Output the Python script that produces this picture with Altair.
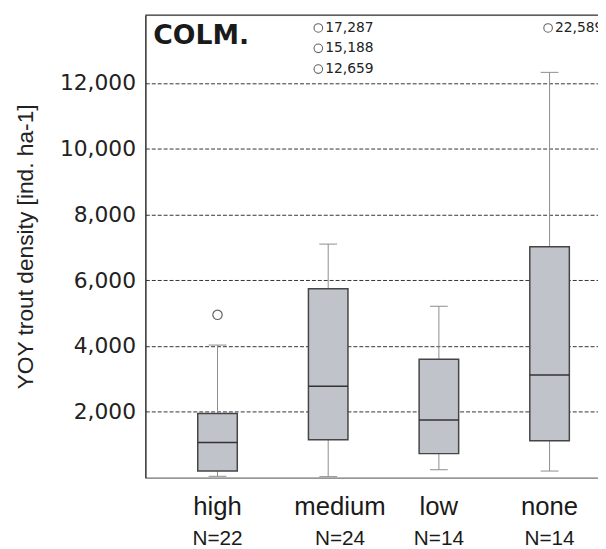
import altair as alt
import pandas as pd

# ---- data ----
categories = ["high", "medium", "low", "none"]
n_obs = [22, 24, 14, 14]
q1 = [200, 1150, 730, 1120]
median = [1070, 2780, 1750, 3120]
q3 = [1950, 5740, 3600, 7020]
whisker_low = [40, 30, 240, 200]
whisker_high = [4030, 7100, 5210, 12320]

# outlier drawn at its true value
outlier_cat = ["high"]
outlier_val = [4950]

# off-scale outliers: value printed, and the level at which the label is placed
far_cat = ["medium", "medium", "medium", "none"]
far_val = [17287, 15188, 12659, 22589]
far_shown_at = [13670, 13050, 12420, 13670]

y_ticks = [2000, 4000, 6000, 8000, 10000, 12000]
panel_label = "COLM."
y_title = "YOY trout density [ind. ha-1]"

# ---- layout ----
W, H = 458, 468
STEP = 112.0           # px per category
X0 = 1 - 73 / STEP     # domain start so the first category sits 73px in
xdom = [X0, X0 + W / STEP]
ydom = [0, 14060]

idx = list(range(1, len(categories) + 1))
boxes = pd.DataFrame({
    "cat": categories, "xi": idx, "n": n_obs, "q1": q1, "med": median,
    "q3": q3, "lo": whisker_low, "hi": whisker_high,
})
boxes["nlab"] = ["N=" + str(v) for v in n_obs]
outl = pd.DataFrame({"cat": outlier_cat, "val": outlier_val})
outl["xi"] = [idx[categories.index(c)] for c in outlier_cat]
far = pd.DataFrame({"cat": far_cat, "val": far_val, "shown": far_shown_at})
far["xi"] = [idx[categories.index(c)] for c in far_cat]
far["lab"] = [f"{v:,}" for v in far_val]

xs = alt.Scale(domain=xdom, nice=False, zero=False)
ys = alt.Scale(domain=ydom, nice=False, zero=False)

X_AXIS = alt.Axis(labels=False, ticks=False, grid=False, title=None,
                  domainColor="#7a7a7a", domainWidth=1.5)
Y_AXIS = alt.Axis(values=y_ticks, format=",d", ticks=False, labelPadding=10,
                  labelFont="DejaVu Sans", labelFontSize=22, labelColor="#222",
                  title=y_title, titleFont="Liberation Sans", titleFontSize=23,
                  titleFontWeight="normal", titleColor="#222", titlePadding=22,
                  grid=True, gridColor="#333", gridDash=[4, 2], gridWidth=1,
                  domainColor="#333", domainWidth=1.5)

base = alt.Chart(boxes).transform_calculate(
    cl=f"datum.xi - 9/{STEP}", cr=f"datum.xi + 9/{STEP}",
    bl=f"datum.xi - 20/{STEP}", br=f"datum.xi + 20/{STEP}",
)

whisk = base.mark_rule(color="#8c8c8c", strokeWidth=1).encode(
    x=alt.X("xi:Q", scale=xs, axis=X_AXIS),
    y=alt.Y("lo:Q", scale=ys, axis=Y_AXIS),
    y2="hi:Q",
)
cap_hi = base.mark_rule(color="#8c8c8c", strokeWidth=1).encode(
    x=alt.X("cl:Q", scale=xs), x2="cr:Q", y=alt.Y("hi:Q", scale=ys))
cap_lo = base.mark_rule(color="#8c8c8c", strokeWidth=1).encode(
    x=alt.X("cl:Q", scale=xs), x2="cr:Q", y=alt.Y("lo:Q", scale=ys))
box = base.mark_rect(fill="#c1c3ca", stroke="#454545", strokeWidth=1.5).encode(
    x=alt.X("bl:Q", scale=xs), x2="br:Q",
    y=alt.Y("q1:Q", scale=ys), y2="q3:Q",
)
med = base.mark_rule(color="#333", strokeWidth=1.5).encode(
    x=alt.X("bl:Q", scale=xs), x2="br:Q", y=alt.Y("med:Q", scale=ys))

out_pts = alt.Chart(outl).mark_point(shape="circle", filled=False, color="#222",
                                     strokeWidth=1.2, size=90).encode(
    x=alt.X("xi:Q", scale=xs), y=alt.Y("val:Q", scale=ys))

far_base = alt.Chart(far).transform_calculate(
    px=f"datum.xi + (datum.cat == 'medium' ? -10 : -1.5)/{STEP}")
far_pts = far_base.mark_point(shape="circle", filled=False, color="#222",
                              strokeWidth=1.1, size=75).encode(
    x=alt.X("px:Q", scale=xs), y=alt.Y("shown:Q", scale=ys))
far_txt = far_base.mark_text(align="left", baseline="middle", dx=7,
                             font="DejaVu Sans", fontSize=14, color="#222").encode(
    x=alt.X("px:Q", scale=xs), y=alt.Y("shown:Q", scale=ys), text="lab:N")

lab_base = alt.Chart(boxes).transform_calculate(
    lx=f"datum.xi + (datum.cat == 'medium' ? 12 : 0)/{STEP}")
cat_txt = lab_base.mark_text(align="center", baseline="alphabetic",
                             font="Liberation Sans", fontSize=26, color="#1a1a1a").encode(
    x=alt.X("lx:Q", scale=xs), y=alt.value(506), text="cat:N")
n_txt = lab_base.mark_text(align="center", baseline="alphabetic",
                           font="Liberation Sans", fontSize=21, color="#1a1a1a").encode(
    x=alt.X("lx:Q", scale=xs), y=alt.value(536), text="nlab:N")

one = pd.DataFrame({"t": [panel_label]})
panel = alt.Chart(one).mark_text(align="left", baseline="alphabetic",
                                 font="DejaVu Sans", fontWeight="bold",
                                 fontSize=27, color="#1a1a1a").encode(
    x=alt.value(8), y=alt.value(29), text="t:N")
top_border = alt.Chart(one).mark_rule(color="#333", strokeWidth=1.5).encode(
    x=alt.value(0), x2=alt.value(W), y=alt.value(0))

chart = alt.layer(
    whisk, cap_hi, cap_lo, box, med, out_pts, far_pts, far_txt,
    cat_txt, n_txt, panel, top_border,
).properties(
    width=W, height=H,
    autosize=alt.AutoSizeParams(type="none"),
    padding={"left": 139, "top": 4, "right": 0, "bottom": 69},
).configure_view(strokeWidth=0).configure(background="white")

chart.save("out.html", embed_options={"renderer": "svg", "actions": False})
